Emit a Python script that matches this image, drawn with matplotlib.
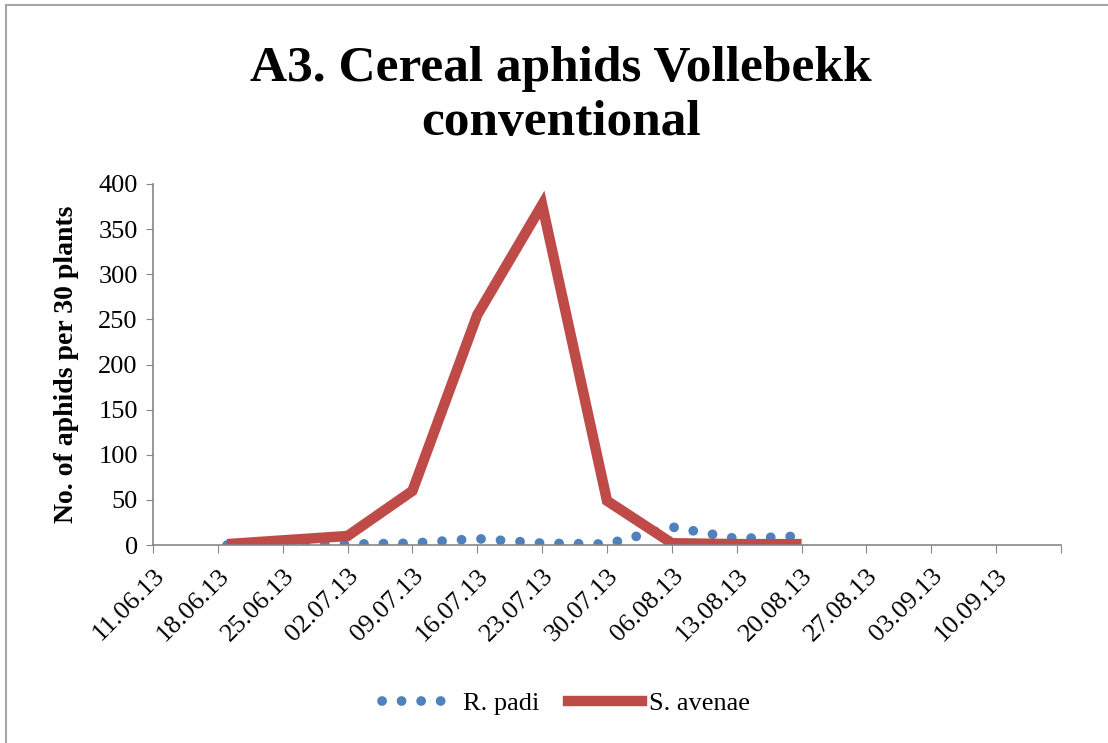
import matplotlib.pyplot as plt
import pandas as pd
from matplotlib.lines import Line2D

# sampling dates and counts (per 30 plants)
dates = ['19.06.13', '02.07.13', '09.07.13', '16.07.13', '23.07.13',
         '30.07.13', '06.08.13', '13.08.13', '20.08.13']
r_padi = [0, 1, 2, 7, 2, 1, 20, 7, 10]
s_avenae = [1, 10, 60, 255, 377, 49, 2, 1, 1]

tick_dates = ['11.06.13', '18.06.13', '25.06.13', '02.07.13', '09.07.13',
              '16.07.13', '23.07.13', '30.07.13', '06.08.13', '13.08.13',
              '20.08.13', '27.08.13', '03.09.13', '10.09.13', '17.09.13']
tick_labels = tick_dates[:-1] + ['']
y_ticks = [0, 50, 100, 150, 200, 250, 300, 350, 400]

plt.rcParams['font.family'] = ['Liberation Serif', 'DejaVu Serif']

BLUE = '#4F81BD'
RED = '#BE4B48'
DOTS = (0, (0.01, 2.0))

x = pd.to_datetime(dates, format='%d.%m.%y')
xt = pd.to_datetime(tick_dates, format='%d.%m.%y')

fig = plt.figure(figsize=(11.08, 7.43), dpi=100)
ax = fig.add_axes([153 / 1108, 1 - 545 / 743, (1061 - 153) / 1108, (545 - 184) / 743])

ax.plot(x, r_padi, color=BLUE, linewidth=7, linestyle=DOTS,
        dash_capstyle='round', label='R. padi')
ax.plot(x, s_avenae, color=RED, linewidth=7.5, solid_joinstyle='miter',
        solid_capstyle='butt', label='S. avenae')

ax.set_xlim(xt[0], xt[-1])
ax.set_ylim(0, 400)
ax.set_xticks(xt)
ax.set_xticklabels(tick_labels, rotation=45, ha='right', rotation_mode='anchor',
                   fontsize=19)
ax.set_yticks(y_ticks)
ax.tick_params(axis='y', labelsize=19, length=5, color='#868686', pad=6)
ax.tick_params(axis='x', length=6, color='#868686', pad=8)
for side in ['top', 'right']:
    ax.spines[side].set_visible(False)
for side in ['left', 'bottom']:
    ax.spines[side].set_color('#868686')
    ax.spines[side].set_linewidth(1.2)
ax.set_ylabel('No. of aphids per 30 plants', fontsize=20, fontweight='bold', labelpad=14)

fig.text(0.506, 1 - 96 / 743, 'A3. Cereal aphids Vollebekk\nconventional', ha='center',
         va='center', fontsize=37, fontweight='bold', linespacing=1.2)

handles = [Line2D([], [], color=BLUE, linewidth=7, linestyle=DOTS, dash_capstyle='round'),
           Line2D([], [], color=RED, linewidth=7.5)]
fig.legend(handles, ['R. padi', 'S. avenae'], loc='center',
           bbox_to_anchor=(566 / 1108, 1 - 703 / 743),
           ncol=2, frameon=False, fontsize=19, handlelength=2.8, handletextpad=0.25,
           columnspacing=1.1)

# thin frame like the original chart area
fig.add_artist(Line2D([6 / 1108, 1], [1 - 5 / 743, 1 - 5 / 743], color='#A6A6A6', linewidth=1.5))
fig.add_artist(Line2D([6 / 1108, 6 / 1108], [0, 1 - 5 / 743], color='#A6A6A6', linewidth=1.5))

fig.savefig('out.png', dpi=100)
